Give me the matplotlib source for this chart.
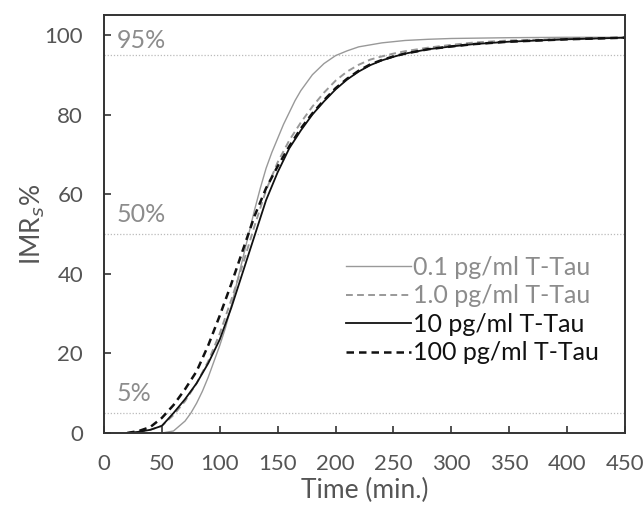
import numpy as np
import matplotlib
matplotlib.use('Agg')
import matplotlib.pyplot as plt

plt.rcParams['font.family'] = ['Lato', 'DejaVu Sans']

# readout times (min) and IMRs % for each T-Tau concentration
t_01 = [50, 60, 70, 75, 80, 85, 90, 95, 100, 105, 110, 115, 120, 125, 130, 135, 140, 145,
        150, 155, 160, 165, 170, 180, 190, 200, 210, 220, 240, 260, 280, 300, 350, 400, 450]
y_01 = [0, 0.5, 3, 5, 7.5, 10.5, 14, 18, 22, 26.5, 32, 38, 44, 50, 56, 61.5, 66.5, 70.5,
        74, 77.5, 80.5, 83.5, 86, 90, 92.8, 94.8, 96, 97, 98, 98.6, 98.9, 99.1, 99.3, 99.4, 99.4]

t_all = [20, 30, 40, 50, 60, 70, 80, 90, 100, 110, 120, 130, 140, 150, 160, 170, 180, 190,
         200, 210, 220, 230, 240, 250, 260, 280, 300, 320, 350, 400, 450]
y_1 = [0, 0.3, 0.8, 1.8, 4.5, 8, 12.5, 18, 25, 33.5, 42.5, 52, 61, 68, 73.5, 78, 82, 85.5,
       88.5, 90.8, 92.5, 93.8, 94.6, 95.3, 95.9, 96.8, 97.5, 98.1, 98.6, 99.0, 99.3]
y_10 = [0, 0.3, 0.8, 1.8, 5, 8.5, 12.5, 17.5, 23.5, 31.5, 40.5, 49.5, 58.5, 65.5, 71.5, 76, 80, 83.3,
        86.3, 88.8, 90.8, 92.4, 93.6, 94.5, 95.3, 96.4, 97.1, 97.7, 98.3, 98.9, 99.3]
y_100 = [0, 0.5, 1.5, 3.8, 7, 11, 15.5, 22, 29.5, 37.5, 46, 54.5, 61.5, 67, 72, 76.5, 80.3, 83.6,
         86.6, 89, 91, 92.6, 93.7, 94.6, 95.3, 96.4, 97.1, 97.7, 98.3, 98.9, 99.3]

levels = [5, 50, 95]
level_labels = ['5%', '50%', '95%']
label_y = [10, 54.8, 98.6]

fig = plt.figure(figsize=(6.44, 5.12), dpi=100)
ax = fig.add_axes([0.1615, 0.1543, 0.809, 0.8164])

for lv in levels:
    ax.axhline(lv, color='#bbbbbb', lw=0.9, ls=(0, (1, 1.5)), zorder=1)
for ly, txt in zip(label_y, level_labels):
    ax.text(11, ly, txt, color='#8c8c8c', fontsize=18, va='center', ha='left')

ax.plot(t_01, y_01, color='#999999', lw=1.0, label='0.1 pg/ml T-Tau')
ax.plot(t_all, y_1, color='#999999', lw=1.4, ls=(0, (3.5, 2.2)), label='1.0 pg/ml T-Tau')
ax.plot(t_all, y_10, color='#111111', lw=1.3, label='10 pg/ml T-Tau')
ax.plot(t_all, y_100, color='#111111', lw=1.8, ls=(0, (3, 2)), label='100 pg/ml T-Tau')

ax.set_xlim(0, 450)
ax.set_ylim(0, 105)
ax.set_xticks(np.arange(0, 451, 50))
ax.set_yticks(np.arange(0, 101, 20))
ax.tick_params(direction='in', length=5, width=1.2, labelsize=16, colors='#333333',
               labelcolor='#555555', pad=15)
for s in ax.spines.values():
    s.set_color('#333333')
    s.set_linewidth(1.4)

ax.set_xlabel('Time (min.)', fontsize=19, color='#555555', labelpad=3)
ax.set_ylabel('IMR$_s$%', fontsize=19, color='#555555', labelpad=-2)

leg = ax.legend(loc='lower right', bbox_to_anchor=(0.97, 0.14), frameon=False, fontsize=18,
                handlelength=2.6, handletextpad=0.1, labelspacing=0.22, borderaxespad=0)
for txt, c in zip(leg.get_texts(), ['#8c8c8c', '#8c8c8c', '#111111', '#111111']):
    txt.set_color(c)

fig.savefig('out.png', dpi=100)
